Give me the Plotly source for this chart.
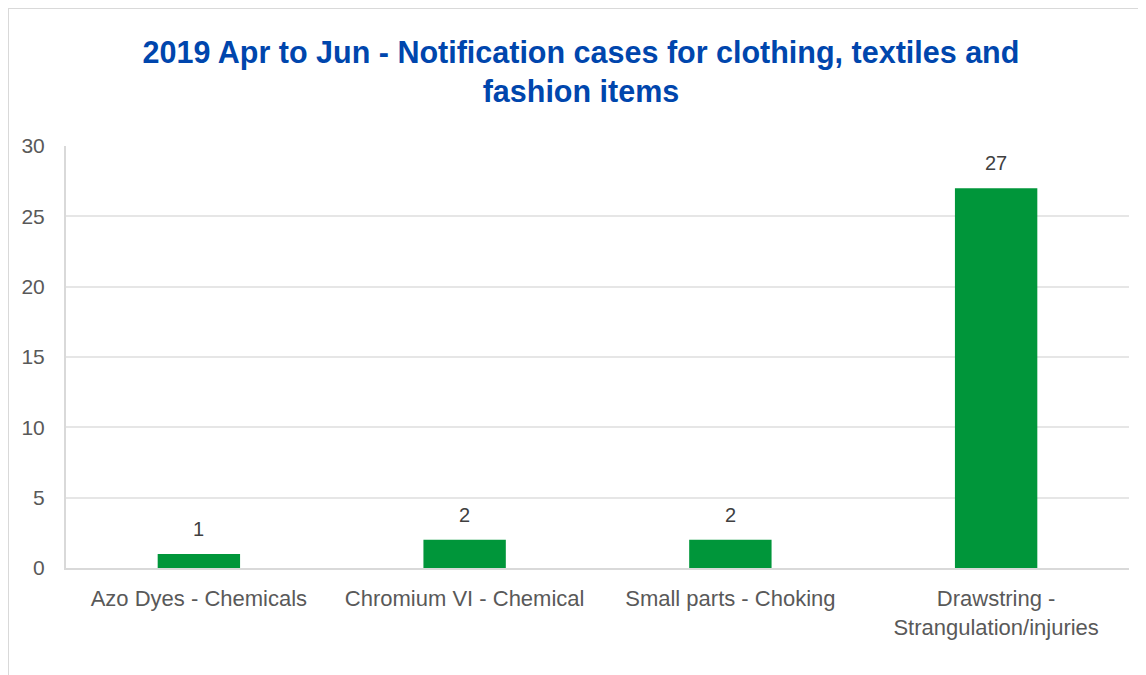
import plotly.graph_objects as go

categories = ["Azo Dyes - Chemicals", "Chromium VI - Chemical", "Small parts - Choking",
              "Drawstring -<br>Strangulation/injuries"]
cases = [1, 2, 2, 27]
y_ticks = [0, 5, 10, 15, 20, 25, 30]

FONT = "Liberation Sans, Arial, sans-serif"
BAR_COLOR = "#00963A"
TEXT_GRAY = "#595959"

W, H = 1146, 675
L, R, T, B = 58, 25, 138, 115
PW, PH = W - L - R, H - T - B

fig = go.Figure()
fig.add_trace(go.Bar(x=categories, y=cases, marker=dict(color=BAR_COLOR, line=dict(width=0)),
                     width=0.31, hoverinfo="x+y"))

for c, v in zip(categories, cases):
    fig.add_annotation(x=c, y=v, text=str(v), showarrow=False, yanchor="bottom",
                       yshift=12, font=dict(family=FONT, size=20, color="#404040"))

fig.update_layout(
    width=W, height=H,
    margin=dict(l=L, r=R, t=T, b=B, autoexpand=False),
    paper_bgcolor="white", plot_bgcolor="white",
    showlegend=False,
    title=dict(text="<b>2019 Apr to Jun - Notification cases for clothing, textiles and<br>fashion items</b>",
               x=0.5, xanchor="center", y=0.919, yanchor="middle",
               font=dict(family=FONT, size=30.5, color="#0046AD")),
    xaxis=dict(showgrid=False, showline=True, linecolor="#D9D9D9", linewidth=2,
               tickfont=dict(family=FONT, size=22, color=TEXT_GRAY),
               tickangle=0, automargin=False,
               ticks="", ticklabelstandoff=10),
    yaxis=dict(range=[0, 30], tickvals=y_ticks, showgrid=True, gridcolor="#E6E6E6", gridwidth=2,
               showline=True, linecolor="#D9D9D9", linewidth=2, zeroline=False,
               tickfont=dict(family=FONT, size=21, color=TEXT_GRAY), automargin=False,
               ticks="", ticklabelstandoff=15),
)

# outer chart-area border (left and top edges visible)
bx = (0 - L) / PW
by = 1 + T / PH
fig.add_shape(type="line", xref="paper", yref="paper",
              x0=bx, x1=bx, y0=by, y1=1 - (H + 20 - T) / PH,
              line=dict(color="#D9D9D9", width=2))
fig.add_shape(type="line", xref="paper", yref="paper",
              x0=bx, x1=(W + 20 - L) / PW, y0=by, y1=by,
              line=dict(color="#D9D9D9", width=2))

fig.write_html("out.html")
